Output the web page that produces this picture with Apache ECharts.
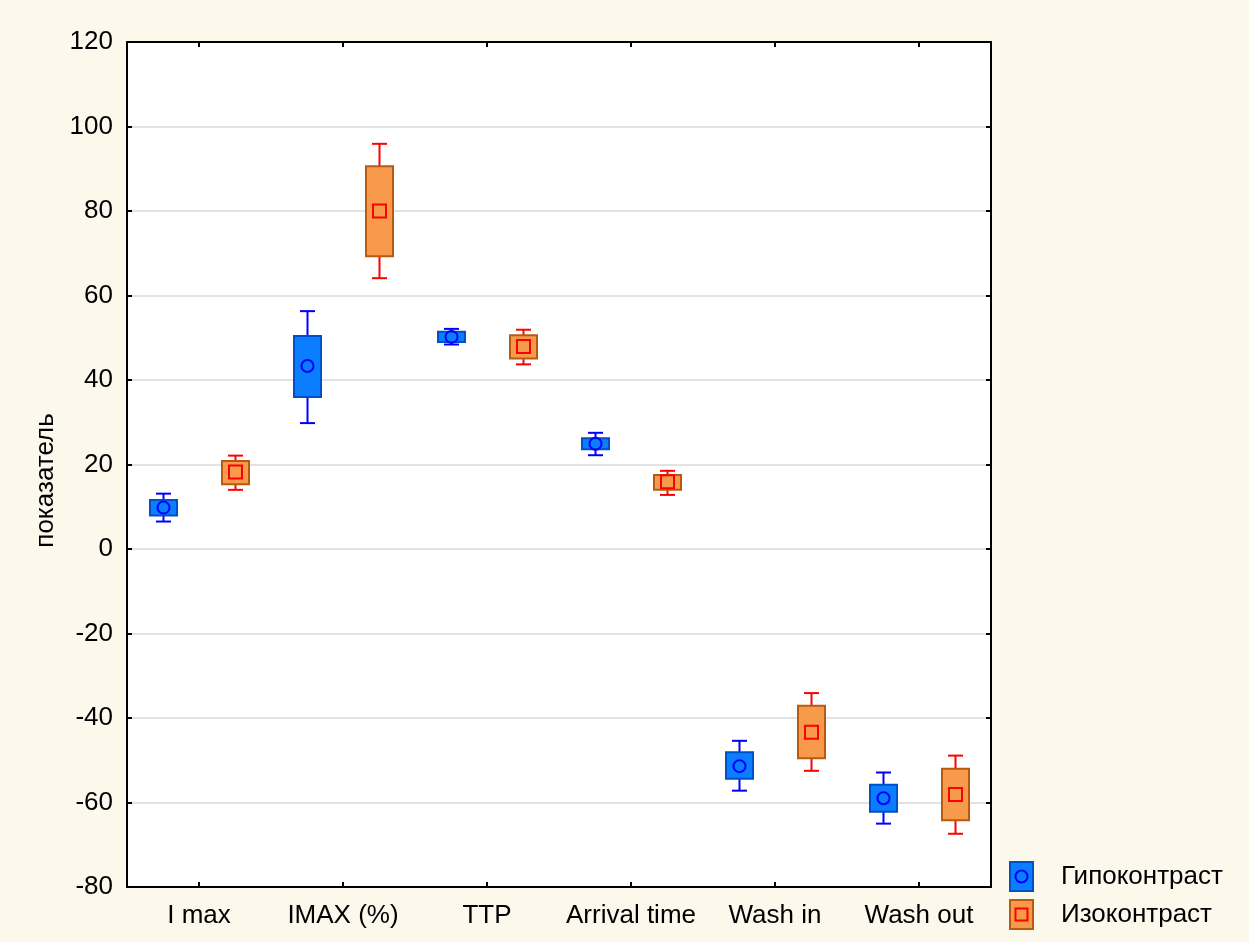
<!DOCTYPE html>
<html>
<head>
<meta charset="utf-8">
<script src="https://cdn.jsdelivr.net/npm/echarts@6/dist/echarts.min.js"></script>
<style>
html,body{margin:0;padding:0;background:#fdf8ec;}
#chart{width:1249px;height:942px;}
</style>
</head>
<body>
<div id="chart"></div>
<script>
const categories = ['I max', 'IMAX (%)', 'TTP', 'Arrival time', 'Wash in', 'Wash out'];
const yTicks = [-80, -60, -40, -20, 0, 20, 40, 60, 80, 100, 120];
const seriesNames = ['Гипоконтраст', 'Изоконтраст'];

const hypoMean      = [9.8, 43.3, 50.2, 24.9, -51.4, -59.0];
const hypoBoxLow    = [7.9, 36.0, 49.0, 23.6, -54.4, -62.2];
const hypoBoxHigh   = [11.6, 50.4, 51.4, 26.2, -48.1, -55.8];
const hypoWhiskLow  = [6.5, 29.8, 48.4, 22.2, -57.2, -65.0];
const hypoWhiskHigh = [13.1, 56.3, 52.1, 27.5, -45.4, -52.9];

const isoMean      = [18.2, 80.0, 47.9, 15.9, -43.4, -58.1];
const isoBoxLow    = [15.3, 69.3, 45.1, 14.0, -49.5, -64.2];
const isoBoxHigh   = [20.8, 90.6, 50.6, 17.5, -37.1, -52.0];
const isoWhiskLow  = [14.0, 64.1, 43.7, 12.8, -52.5, -67.4];
const isoWhiskHigh = [22.1, 95.9, 51.9, 18.5, -34.1, -48.9];

const FONT = '"Liberation Sans", Arial, sans-serif';
const FS = 26;

function buildData(mean, bl, bh, wl, wh) {
  return categories.map((c, i) => [i, mean[i], bl[i], bh[i], wl[i], wh[i]]);
}

const styles = [
  {off: -36, fill: '#0a7eff', border: '#0050c8', line: '#0000ff', marker: 'circle'},
  {off: 36, fill: '#f79a4b', border: '#b85a10', line: '#ff0000', marker: 'square'}
];

function renderItem(params, api) {
  const st = styles[params.seriesIndex];
  const xi = api.value(0);
  const cx = Math.round(api.coord([xi, 0])[0] + st.off) + 0.5;
  const yM = api.coord([xi, api.value(1)])[1];
  const yBL = api.coord([xi, api.value(2)])[1];
  const yBH = api.coord([xi, api.value(3)])[1];
  const yWL = api.coord([xi, api.value(4)])[1];
  const yWH = api.coord([xi, api.value(5)])[1];
  const capW = 7.5, boxW = 13.5;
  const lineStyle = {stroke: st.line, lineWidth: 2, fill: null};
  const children = [
    {type: 'line', shape: {x1: cx, y1: yWH, x2: cx, y2: yBH}, style: lineStyle},
    {type: 'line', shape: {x1: cx, y1: yBL, x2: cx, y2: yWL}, style: lineStyle},
    {type: 'line', shape: {x1: cx - capW, y1: yWH, x2: cx + capW, y2: yWH}, style: lineStyle},
    {type: 'line', shape: {x1: cx - capW, y1: yWL, x2: cx + capW, y2: yWL}, style: lineStyle},
    {type: 'rect', shape: {x: cx - boxW, y: yBH, width: boxW * 2, height: yBL - yBH},
      style: {fill: st.fill, stroke: st.border, lineWidth: 2}}
  ];
  if (st.marker === 'circle') {
    children.push({type: 'circle', shape: {cx: cx, cy: yM, r: 6},
      style: {fill: null, stroke: st.line, lineWidth: 2}});
  } else {
    children.push({type: 'rect', shape: {x: cx - 6.5, y: yM - 6.5, width: 13, height: 13},
      style: {fill: null, stroke: st.line, lineWidth: 2}});
  }
  return {type: 'group', children: children};
}

function svgIcon(fill, border, line, marker) {
  let inner = marker === 'circle'
    ? `<circle cx="12.5" cy="15.5" r="6" fill="none" stroke="${line}" stroke-width="2"/>`
    : `<rect x="6.5" y="9.5" width="12" height="12" fill="none" stroke="${line}" stroke-width="2"/>`;
  const svg = `<svg xmlns="http://www.w3.org/2000/svg" width="47" height="31" viewBox="0 0 47 31">` +
    `<rect x="1" y="1" width="23" height="29" fill="${fill}" stroke="${border}" stroke-width="2"/>` +
    inner + `</svg>`;
  return 'image://data:image/svg+xml;charset=utf-8,' + encodeURIComponent(svg);
}

const chart = echarts.init(document.getElementById('chart'), null, {renderer: 'canvas'});

const catAxisBase = {
  type: 'category',
  data: categories,
  boundaryGap: true,
  axisLine: {show: true, onZero: false, lineStyle: {color: '#000', width: 2}},
  axisTick: {show: true, inside: true, alignWithLabel: true, interval: 0, length: 5, lineStyle: {color: '#000', width: 2}},
  splitLine: {show: false}
};
const valAxisBase = {
  type: 'value',
  min: -80, max: 120, interval: 20,
  axisLine: {show: true, onZero: false, lineStyle: {color: '#000', width: 2}},
  axisTick: {show: true, inside: true, length: 5, lineStyle: {color: '#000', width: 2}}
};

chart.setOption({
  backgroundColor: '#fdf8ec',
  animation: false,
  textStyle: {fontFamily: FONT},
  grid: {left: 127, right: 258, top: 42, bottom: 55, show: true, backgroundColor: '#ffffff', borderWidth: 0},
  legend: {
    orient: 'vertical',
    left: 1009, top: 861,
    padding: 0,
    itemWidth: 47, itemHeight: 31, itemGap: 7,
    data: [
      {name: seriesNames[0], icon: svgIcon('#0a7eff', '#0050c8', '#0000ff', 'circle')},
      {name: seriesNames[1], icon: svgIcon('#f79a4b', '#b85a10', '#ff0000', 'square')}
    ],
    textStyle: {fontSize: FS, color: '#000', fontFamily: FONT}
  },
  xAxis: [
    Object.assign({}, catAxisBase, {
      position: 'bottom',
      axisLabel: {show: true, interval: 0, fontSize: FS, color: '#000', margin: 16, fontFamily: FONT}
    }),
    Object.assign({}, catAxisBase, {position: 'top', axisLabel: {show: false}})
  ],
  yAxis: [
    Object.assign({}, valAxisBase, {
      position: 'left',
      name: 'показатель',
      nameLocation: 'middle',
      nameGap: 68,
      nameRotate: 90,
      nameTextStyle: {fontSize: FS, color: '#000', fontFamily: FONT, padding: [0, 32, 0, 0]},
      axisLabel: {show: true, fontSize: FS, color: '#000', margin: 14, fontFamily: FONT},
      splitLine: {show: true, lineStyle: {color: '#e2e2e2', width: 2}}
    }),
    Object.assign({}, valAxisBase, {
      position: 'right',
      axisLabel: {show: false},
      splitLine: {show: false}
    })
  ],
  series: [
    {name: seriesNames[0], type: 'custom', renderItem: renderItem,
      encode: {x: 0, y: [1, 2, 3, 4, 5]},
      itemStyle: {color: '#0a7eff'},
      data: buildData(hypoMean, hypoBoxLow, hypoBoxHigh, hypoWhiskLow, hypoWhiskHigh)},
    {name: seriesNames[1], type: 'custom', renderItem: renderItem,
      encode: {x: 0, y: [1, 2, 3, 4, 5]},
      itemStyle: {color: '#f79a4b'},
      data: buildData(isoMean, isoBoxLow, isoBoxHigh, isoWhiskLow, isoWhiskHigh)}
  ]
});
</script>
</body>
</html>
